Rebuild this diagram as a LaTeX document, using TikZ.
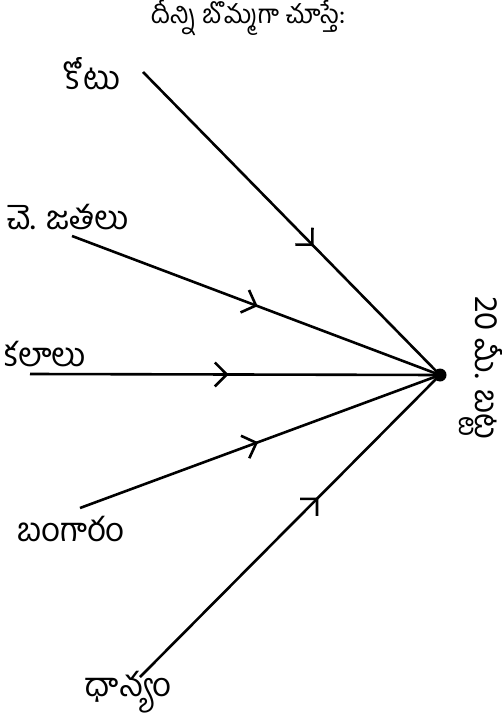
\documentclass[tikz,border=0pt]{standalone}
\usepackage{fontspec}
\newfontfamily\tel[Script=Telugu]{Hind Guntur}
\usetikzlibrary{decorations.markings}
\begin{document}
\begin{tikzpicture}[x=1pt,y=-1pt,
  lbl/.style={font=\tel\fontsize{33}{36}\selectfont, inner sep=0pt},
  ttl/.style={font=\tel\fontsize{26}{30}\selectfont, inner sep=0pt},
  flow/.style={line width=2.6pt, postaction={decorate},
    decoration={markings, mark=at position #1 with {\draw[line width=2.6pt, line cap=butt, line join=miter] (-12pt,-12pt) -- (0pt,0pt) -- (-12pt,12pt);}}},
  flow/.default=0.55]
\useasboundingbox (0,0) rectangle (501,722);
\node[ttl] (title) at (248,18) {దీన్ని బొమ్మగా చూస్తే:};
\coordinate (hub) at (440,375);
\fill (hub) circle (6.5pt);
\node[lbl] (kotu) at (92,74) {కోటు};
\node[lbl] (che) at (68,217) {చె. జతలు};
\node[lbl] (kalalu) at (45,354) {కలాలు};
\node[lbl] (bangaram) at (71,529) {బంగారం};
\node[lbl] (dhanyam) at (128,692) {ధాన్యం};
\node[lbl, rotate=-90] (batta) at (481,368) {20 మీ. బట్ట};
\coordinate (s1) at (143,72);
\coordinate (s2) at (72,236);
\coordinate (s3) at (30,374);
\coordinate (s4) at (80,508);
\coordinate (s5) at (140,677);
\draw[flow=0.57] (s1) -- (hub);
\draw[flow=0.50] (s2) -- (hub);
\draw[flow=0.48] (s3) -- (hub);
\draw[flow=0.49] (s4) -- (hub);
\draw[flow=0.59] (s5) -- (hub);
\end{tikzpicture}
\end{document}
